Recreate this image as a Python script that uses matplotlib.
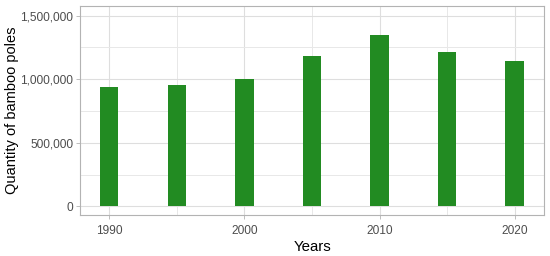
import matplotlib
matplotlib.use("Agg")
import matplotlib.pyplot as plt
from matplotlib.ticker import FuncFormatter

years = [1990, 1995, 2000, 2005, 2010, 2015, 2020]
poles = [936000, 952000, 1004000, 1185000, 1348000, 1212000, 1146000]
x_ticks = [1990, 2000, 2010, 2020]
y_ticks = [0, 500000, 1000000, 1500000]

plt.rcParams['font.family'] = ['Liberation Sans', 'DejaVu Sans']

fig = plt.figure(figsize=(5.5, 2.56), dpi=100)
ax = fig.add_axes([80.3/550, 1-215.3/256, (544.3-80.3)/550, (215.3-5.7)/256])

ax.bar(years, poles, width=1.35, color='#228B22', zorder=3)

ax.set_xlim(1987.85, 2022.2)
ax.set_ylim(-70800, 1578700)
ax.set_xticks(x_ticks)
ax.set_xticks([1995, 2005, 2015], minor=True)
ax.set_yticks(y_ticks)
ax.set_yticks([250000, 750000, 1250000], minor=True)
ax.yaxis.set_major_formatter(FuncFormatter(lambda v, p: f"{int(v):,}"))

ax.grid(which='major', color='#DEDEDE', linewidth=0.8, zorder=0)
ax.grid(which='minor', color='#E8E8E8', linewidth=0.7, zorder=0)
ax.set_axisbelow(True)
for s in ax.spines.values():
    s.set_color('#B3B3B3')
    s.set_linewidth(0.8)

ax.tick_params(axis='both', which='major', length=3, width=0.6, color='#B3B3B3',
               labelsize=8.6, labelcolor='#4D4D4D')
ax.tick_params(axis='x', which='major', pad=4)
ax.tick_params(axis='y', which='major', pad=2)
ax.tick_params(which='minor', length=0)

ax.set_xlabel('Years', fontsize=10.8, color='black', labelpad=2)
ax.set_ylabel('Quantity of bamboo poles', fontsize=10.5, color='black')
ax.yaxis.set_label_coords(-0.133, 0.5)

fig.savefig('out.png', dpi=100)
